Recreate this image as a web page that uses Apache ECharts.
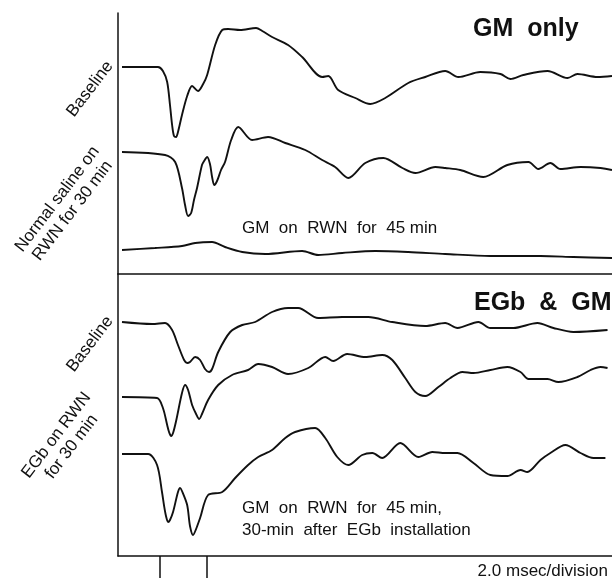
<!DOCTYPE html>
<html>
<head>
<meta charset="utf-8">
<script src="https://cdn.jsdelivr.net/npm/echarts@6/dist/echarts.min.js"></script>
<style>
  html, body { margin: 0; padding: 0; background: #fff; }
  #chart { width: 612px; height: 578px; }
</style>
</head>
<body>
<div id="chart"></div>
<script>
// time in msec, amplitude in arbitrary units
// --- top panel: GM only ---
var gmBaseT = [0.17, 1.70, 1.91, 2.09, 2.21, 2.30, 2.38, 2.47, 2.55, 2.72, 2.94, 3.15, 3.40, 3.62, 3.79, 4.13, 4.43, 4.68, 5.19, 5.87, 6.13, 6.55, 7.23, 7.83, 8.68, 8.94, 9.36, 10.09, 10.72, 11.36, 12.34, 13.06, 13.91, 14.47, 15.40, 16.26, 16.68, 17.23, 18.26, 19.11, 19.53, 20.38, 21.0];
var gmBaseV = [207, 207, 203, 192, 169, 149, 138, 137, 142, 159, 178, 188, 183, 190, 199, 229, 244, 245, 244, 246, 243, 237, 229, 217, 197, 198, 184, 176, 170, 176, 191, 197, 203, 197, 202, 200, 195, 199, 203, 196, 200, 197, 198];

var salineT = [0.17, 2.00, 2.43, 2.72, 2.85, 2.98, 3.11, 3.23, 3.36, 3.57, 3.66, 3.79, 3.91, 4.00, 4.09, 4.21, 4.38, 4.55, 4.81, 5.11, 5.70, 6.38, 7.11, 7.96, 8.68, 9.23, 9.79, 10.51, 11.28, 12.09, 12.64, 13.49, 13.91, 14.55, 15.53, 16.55, 17.45, 17.87, 18.38, 18.81, 19.66, 20.51, 21.0];
var salineV = [122, 119, 112, 86, 69, 58, 61, 74, 86, 109, 113, 117, 110, 97, 89, 93, 104, 112, 134, 147, 134, 137, 131, 124, 114, 107, 96, 111, 116, 106, 101, 107, 106, 104, 97, 109, 112, 105, 111, 105, 107, 106, 104];

var gm45T = [0.17, 1.57, 2.72, 3.28, 4.00, 4.55, 5.28, 6.26, 7.83, 8.51, 9.53, 10.94, 12.34, 13.91, 15.83, 17.96, 19.36, 21.0];
var gm45V = [24, 26, 28, 31, 32, 27, 22, 20, 23, 19, 21, 23, 22, 20, 18, 18, 17, 16];

// --- bottom panel: EGb & GM ---
var egbBaseT = [0.17, 1.45, 2.00, 2.30, 2.55, 2.81, 2.94, 3.06, 3.28, 3.49, 3.70, 3.87, 4.00, 4.26, 4.77, 5.28, 5.83, 6.55, 7.23, 7.66, 8.51, 9.53, 10.64, 11.66, 13.06, 13.91, 14.43, 15.32, 15.83, 16.81, 17.83, 18.51, 19.36, 20.81];
var egbBaseV = [234, 232, 233, 226, 211, 196, 193, 194, 199, 196, 187, 184, 187, 204, 224, 231, 234, 244, 248, 248, 238, 239, 239, 234, 230, 233, 228, 234, 228, 228, 233, 228, 224, 226];

var egbT = [0.17, 1.66, 1.91, 2.09, 2.17, 2.26, 2.34, 2.47, 2.72, 2.85, 2.98, 3.15, 3.32, 3.45, 3.57, 3.83, 4.26, 4.85, 5.53, 5.96, 6.55, 7.23, 8.09, 8.81, 9.15, 9.74, 10.51, 11.23, 11.66, 12.21, 12.64, 13.06, 13.62, 14.13, 14.64, 15.11, 15.83, 16.55, 17.11, 17.45, 17.83, 18.26, 18.72, 19.53, 20.09, 20.51, 20.81];
var egbV = [159, 158, 148, 131, 124, 120, 123, 135, 163, 171, 166, 151, 142, 137, 142, 156, 171, 181, 186, 192, 189, 182, 188, 199, 195, 202, 199, 201, 196, 178, 164, 160, 169, 178, 184, 183, 186, 189, 184, 177, 177, 177, 174, 179, 186, 189, 188];

var egbGmT = [0.17, 1.28, 1.66, 1.87, 1.96, 2.04, 2.13, 2.21, 2.34, 2.55, 2.64, 2.72, 2.94, 3.06, 3.19, 3.32, 3.49, 3.83, 4.43, 4.98, 5.53, 5.96, 6.55, 7.11, 7.53, 8.38, 8.81, 9.32, 9.79, 10.38, 10.81, 11.23, 12.00, 12.77, 13.36, 13.91, 14.43, 15.11, 15.83, 16.55, 17.11, 17.40, 17.96, 18.38, 19.02, 19.66, 20.21, 20.72];
var egbGmV = [102, 102, 91, 64, 50, 40, 34, 36, 44, 64, 68, 65, 51, 30, 21, 27, 38, 61, 64, 78, 91, 99, 106, 118, 124, 128, 118, 99, 91, 101, 103, 98, 113, 99, 104, 103, 103, 93, 81, 80, 86, 84, 96, 103, 111, 103, 98, 98];

var tickTimes = [1.79, 3.78];

function pairs(t, v) {
  return t.map(function (x, i) { return [x, v[i]]; });
}

var ink = '#111';
var fontFam = '"Liberation Sans", Arial, sans-serif';
var tilt = 0.92;

function trace(data, gi) {
  return {
    type: 'line',
    xAxisIndex: gi,
    yAxisIndex: gi,
    data: data,
    smooth: 0.3,
    showSymbol: false,
    symbol: 'none',
    silent: true,
    lineStyle: { color: ink, width: 1.9 }
  };
}

var chart = echarts.init(document.getElementById('chart'));

chart.setOption({
  animation: false,
  backgroundColor: '#fff',
  grid: [
    { left: 118, right: 0, top: 13, height: 261 },
    { left: 118, right: 0, top: 274, height: 282 }
  ],
  xAxis: [
    {
      gridIndex: 0, type: 'value', min: 0, max: 21,
      axisLine: { show: true, lineStyle: { color: ink, width: 1.5 } },
      axisTick: { show: false }, axisLabel: { show: false }, splitLine: { show: false }
    },
    {
      gridIndex: 1, type: 'value', min: 0, max: 21,
      axisLine: { show: true, lineStyle: { color: ink, width: 1.5 } },
      axisTick: { show: true, customValues: tickTimes, length: 22, lineStyle: { color: ink, width: 1.5 } },
      axisLabel: { show: false }, splitLine: { show: false }
    }
  ],
  yAxis: [
    {
      gridIndex: 0, type: 'value', min: 0, max: 261,
      axisLine: { show: true, lineStyle: { color: ink, width: 1.5 } },
      axisTick: { show: false }, axisLabel: { show: false }, splitLine: { show: false }
    },
    {
      gridIndex: 1, type: 'value', min: 0, max: 282,
      axisLine: { show: true, lineStyle: { color: ink, width: 1.5 } },
      axisTick: { show: false }, axisLabel: { show: false }, splitLine: { show: false }
    }
  ],
  series: [
    trace(pairs(gmBaseT, gmBaseV), 0),
    trace(pairs(salineT, salineV), 0),
    trace(pairs(gm45T, gm45V), 0),
    trace(pairs(egbBaseT, egbBaseV), 1),
    trace(pairs(egbT, egbV), 1),
    trace(pairs(egbGmT, egbGmV), 1)
  ],
  graphic: [
    { type: 'text', x: 473, y: 42, style: { text: 'GM  only', fill: ink, font: 'bold 25px ' + fontFam, textAlign: 'left', textVerticalAlign: 'bottom' } },
    { type: 'text', x: 474, y: 316, style: { text: 'EGb  &  GM', fill: ink, font: 'bold 25px ' + fontFam, textAlign: 'left', textVerticalAlign: 'bottom' } },
    { type: 'text', x: 242, y: 228, style: { text: 'GM  on  RWN  for  45 min', fill: ink, font: '17px ' + fontFam, textAlign: 'left', textVerticalAlign: 'middle' } },
    { type: 'text', x: 242, y: 508, style: { text: 'GM  on  RWN  for  45 min,', fill: ink, font: '17px ' + fontFam, textAlign: 'left', textVerticalAlign: 'middle' } },
    { type: 'text', x: 242, y: 530, style: { text: '30-min  after  EGb  installation', fill: ink, font: '17px ' + fontFam, textAlign: 'left', textVerticalAlign: 'middle' } },
    { type: 'text', x: 608, y: 571, style: { text: '2.0 msec/division', fill: ink, font: '17px ' + fontFam, textAlign: 'right', textVerticalAlign: 'middle' } },
    { type: 'text', x: 90, y: 89, rotation: tilt, style: { text: 'Baseline', fill: ink, font: '17px ' + fontFam, textAlign: 'center', textVerticalAlign: 'middle' } },
    { type: 'text', x: 65, y: 205, rotation: tilt, style: { text: 'Normal saline on\nRWN for 30 min', fill: ink, font: '17px ' + fontFam, lineHeight: 19, textAlign: 'center', textVerticalAlign: 'middle' } },
    { type: 'text', x: 90, y: 344, rotation: tilt, style: { text: 'Baseline', fill: ink, font: '17px ' + fontFam, textAlign: 'center', textVerticalAlign: 'middle' } },
    { type: 'text', x: 64, y: 441, rotation: tilt, style: { text: 'EGb on RWN\nfor 30 min', fill: ink, font: '17px ' + fontFam, lineHeight: 19, textAlign: 'center', textVerticalAlign: 'middle' } }
  ]
});
</script>
</body>
</html>
